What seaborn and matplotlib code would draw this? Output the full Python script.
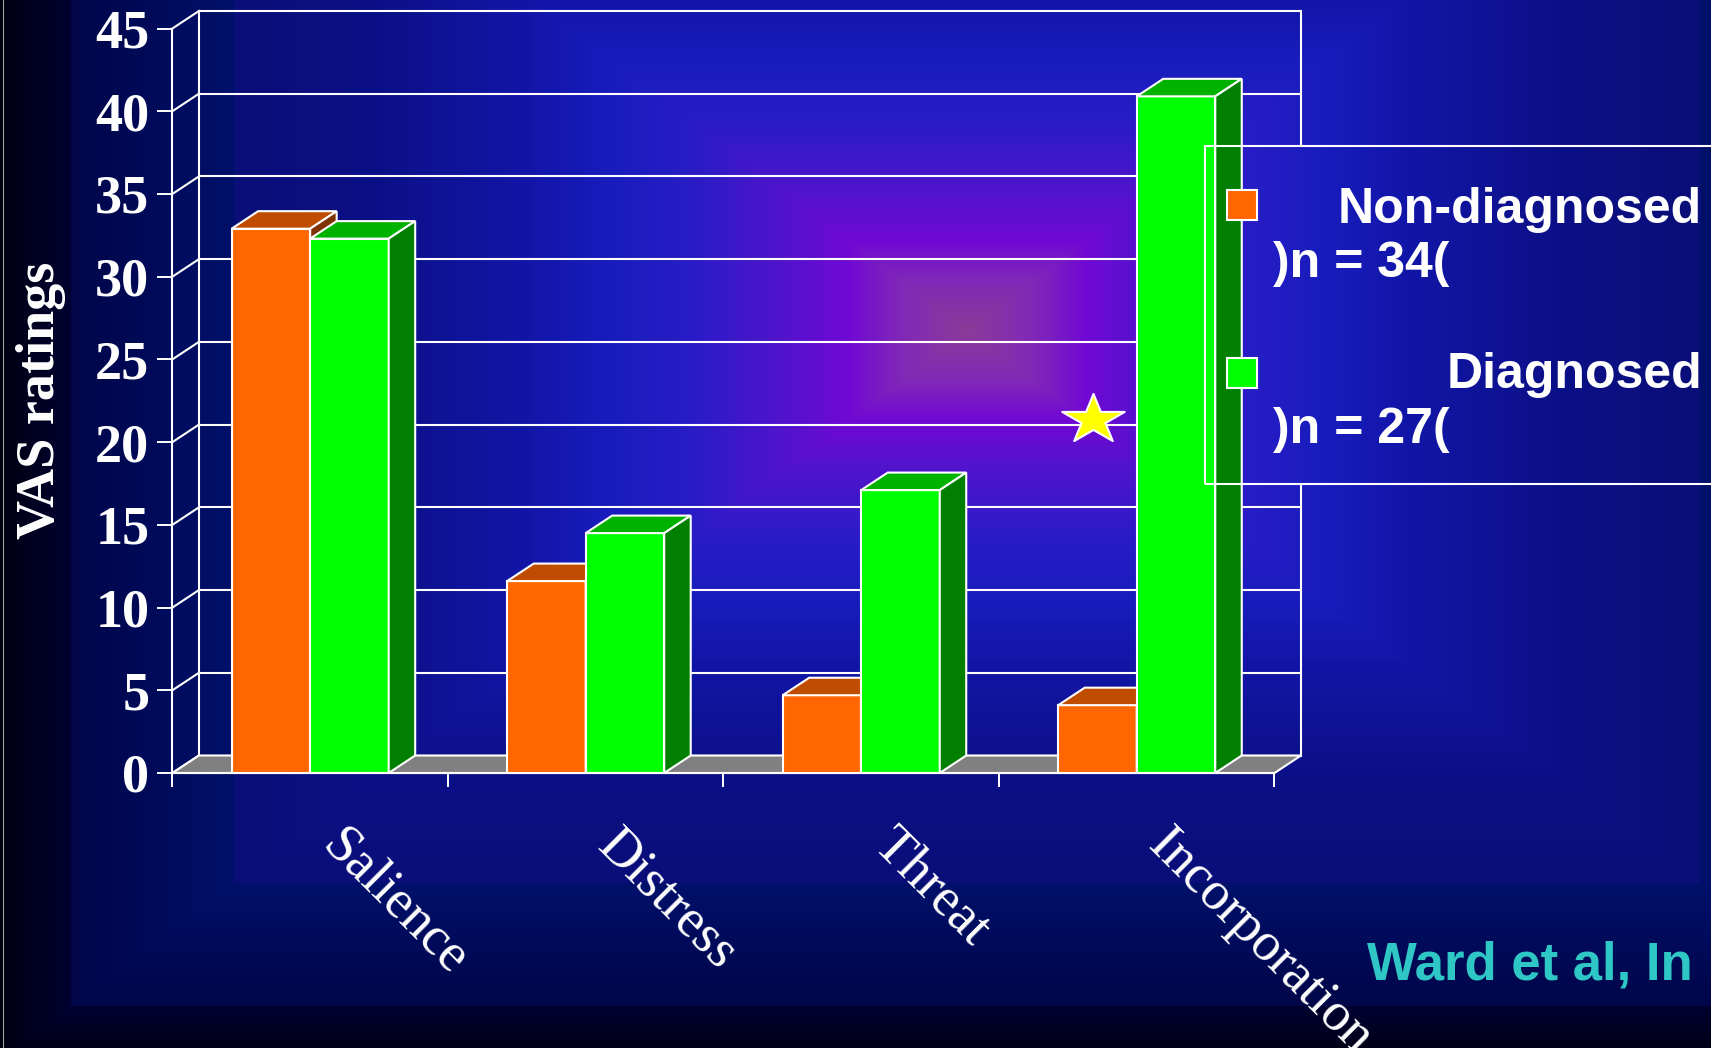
import numpy as np
import pandas as pd
import matplotlib
matplotlib.use("Agg")
import matplotlib.pyplot as plt
import matplotlib.transforms as mtransforms
from matplotlib.patches import Polygon, Rectangle
from matplotlib.path import Path
import seaborn as sns

# ---------------- data ----------------
categories = ["Salience", "Distress", "Threat", "Incorporation"]
groups = ["Non-diagnosed", "Diagnosed"]
group_counts = [")n = 34(", ")n = 27("]
non_diagnosed = [32.9, 11.6, 4.7, 4.1]
diagnosed = [32.3, 14.5, 17.1, 40.9]
y_ticks = [0, 5, 10, 15, 20, 25, 30, 35, 40, 45]
y_label = "VAS ratings"
source_note = "Ward et al, In"
star_position = 2.84   # in category units
star_value = 21.5

# ---------------- style ----------------
ORANGE, ORANGE_TOP, ORANGE_SIDE = "#FF6600", "#BF4C00", "#7F3300"
GREEN, GREEN_TOP, GREEN_SIDE = "#00FF00", "#00B200", "#007F00"
FLOOR = "#808080"
LW = 1.5
SERIF = "Liberation Serif"
SANS = "Liberation Sans"

W, H = 1711, 1048
fig = plt.figure(figsize=(W / 100, H / 100), dpi=100)


def make_background():
    yy, xx = np.mgrid[0:H, 0:W].astype(float)
    cx, cy, asp = 967.0, 330.0, 1.327
    d = np.maximum(np.abs(xx - cx) / asp, np.abs(yy - cy))
    stops = [0, 50, 90, 140, 210, 270, 330, 440, 552, 553, 620, 675, 676, 760]
    cols = np.array([
        (0x8a, 0x3c, 0x98), (0x80, 0x28, 0xb8), (0x70, 0x08, 0xd4),
        (0x50, 0x14, 0xcc), (0x28, 0x1c, 0xc6), (0x18, 0x1c, 0xbc),
        (0x12, 0x16, 0xa8), (0x0c, 0x10, 0x88), (0x0a, 0x0e, 0x78),
        (0x00, 0x10, 0x6a), (0x00, 0x0a, 0x58), (0x00, 0x06, 0x48),
        (0x00, 0x00, 0x30), (0x00, 0x00, 0x00)], dtype=float) / 255.0
    img = np.stack([np.interp(d, stops, cols[:, k]) for k in range(3)], axis=-1)
    return img


bg = make_background()
bg_ax = fig.add_axes([0, 0, 1, 1], zorder=0)
bg_ax.imshow(bg, extent=(0, W, H, 0), aspect="auto", interpolation="bilinear")
bg_ax.plot([3, 3], [0, H], color="#a0a0a0", lw=0.8)
bg_ax.set_xlim(0, W)
bg_ax.set_ylim(H, 0)
bg_ax.axis("off")

# ---------------- main axes (front plane) ----------------
L, R, B0, T45 = 172.4, 1274.5, 773.0, 28.5
ax = fig.add_axes([L / W, 1 - B0 / H, (R - L) / W, (B0 - T45) / H], zorder=1)
ax.patch.set_alpha(0)

df = pd.DataFrame({
    "category": categories * 2,
    "group": [groups[0]] * 4 + [groups[1]] * 4,
    "value": non_diagnosed + diagnosed,
})
sns.barplot(data=df, x="category", y="value", hue="group", order=categories,
            hue_order=groups, palette=[ORANGE, GREEN], width=0.57, saturation=1,
            edgecolor="white", linewidth=LW, legend=False, errorbar=None, ax=ax)

ax.set_xlim(-0.5, 3.5)
ax.set_ylim(0, 45)

px_per_x = (R - L) / 4.0
px_per_y = (B0 - T45) / 45.0
DX = 26.5 / px_per_x
DY = 17.5 / px_per_y


def px2x(px):
    return -0.5 + (px - L) / px_per_x


def py2y(py):
    return (B0 - py) / px_per_y


# back wall grid, side wall diagonals, wall edges
for t in y_ticks:
    ax.plot([-0.5 + DX, 3.5 + DX], [t + DY, t + DY], color="white", lw=LW,
            zorder=1, clip_on=False, solid_capstyle="butt")
    ax.plot([-0.5, -0.5 + DX], [t, t + DY], color="white", lw=LW, zorder=1, clip_on=False)
for xe in (-0.5 + DX, 3.5 + DX):
    ax.plot([xe, xe], [DY, 45 + DY], color="white", lw=LW, zorder=1, clip_on=False)

# floor
ax.add_patch(Polygon([(-0.5, 0), (3.5, 0), (3.5 + DX, DY), (-0.5 + DX, DY)],
                     closed=True, fc=FLOOR, ec="white", lw=LW, zorder=2, clip_on=False))

# legend box background (hides grid lines behind it)
lx0, lx1, ly0, ly1 = px2x(1205), px2x(1730), py2y(484), py2y(146)
clip_rect = Rectangle((lx0, ly0), lx1 - lx0, ly1 - ly0, transform=ax.transData)
im = ax.imshow(bg, extent=(px2x(0), px2x(W), py2y(H), py2y(0)), aspect="auto",
               interpolation="bilinear", zorder=1.8)
im.set_clip_path(clip_rect)

# 3D bar faces
shades = [(ORANGE_TOP, ORANGE_SIDE), (GREEN_TOP, GREEN_SIDE)]
for i, cont in enumerate(ax.containers):
    top_c, side_c = shades[i]
    for p in cont.patches:
        p.set_zorder(3 + 2 * i)
        x0, w, h = p.get_x(), p.get_width(), p.get_height()
        ax.add_patch(Polygon([(x0, h), (x0 + w, h), (x0 + w + DX, h + DY), (x0 + DX, h + DY)],
                             closed=True, fc=top_c, ec="white", lw=LW,
                             zorder=3.5 + 2 * i, clip_on=False))
        ax.add_patch(Polygon([(x0 + w, 0), (x0 + w + DX, DY), (x0 + w + DX, h + DY), (x0 + w, h)],
                             closed=True, fc=side_c, ec="white", lw=LW,
                             zorder=3.5 + 2 * i, clip_on=False))

ax.set_xlim(-0.5, 3.5)
ax.set_ylim(0, 45)

# legend frame and keys
ax.add_patch(Rectangle((lx0, ly0), lx1 - lx0, ly1 - ly0, fill=False, ec="white",
                       lw=LW, zorder=8, clip_on=False))
for (top_px, col) in ((190, ORANGE), (358, GREEN)):
    ax.add_patch(Rectangle((px2x(1227), py2y(top_px + 30)), 30 / px_per_x, 30 / px_per_y,
                           fc=col, ec="white", lw=LW, zorder=8, clip_on=False))

# star marker
t_ang = np.deg2rad(90 + 36 * np.arange(10))
r = np.where(np.arange(10) % 2 == 0, 1.0, 0.382)
sx, sy = r * np.cos(t_ang), r * np.sin(t_ang)
sy = sy - (sy.max() + sy.min()) / 2
sy = sy * 0.754 * (sx.max() - sx.min()) / (sy.max() - sy.min())
star_path = Path(np.column_stack([sx, sy]).tolist() + [[sx[0], sy[0]]],
                 [Path.MOVETO] + [Path.LINETO] * 9 + [Path.CLOSEPOLY])
ax.plot([star_position], [star_value], marker=star_path, ms=45, mfc="#FFFF00",
        mec="white", mew=1.5, ls="none", zorder=9, clip_on=False)

# axes styling
for s in ("top", "right"):
    ax.spines[s].set_visible(False)
for s in ("left", "bottom"):
    ax.spines[s].set_color("white")
    ax.spines[s].set_linewidth(LW)
    ax.spines[s].set_zorder(6)

ax.set_yticks(y_ticks)
ax.set_yticklabels([str(v) for v in y_ticks], fontfamily=SERIF, fontweight="bold",
                   fontsize=39, color="white")
ax.tick_params(axis="y", length=10.8, width=1.4, color="white", pad=5.8, direction="out")

ax.set_xticks(range(len(categories)))
ax.set_xticklabels(categories, rotation=-45, ha="left", va="top", rotation_mode="anchor",
                   fontfamily=SERIF, fontsize=39, color="white")
ax.tick_params(axis="x", which="major", length=0, pad=34)
ax.set_xticks([-0.5, 0.5, 1.5, 2.5, 3.5], minor=True)
ax.tick_params(axis="x", which="minor", length=10, width=1.4, color="white", direction="out")
shift = mtransforms.ScaledTranslation(0.37, 0, fig.dpi_scale_trans)
for lab in ax.get_xticklabels():
    lab.set_transform(lab.get_transform() + shift)

ax.set_xlabel("")
ax.set_ylabel(y_label, fontfamily=SERIF, fontweight="bold", fontsize=39, color="white")
ax.yaxis.label.set_va("center")
ax.yaxis.set_label_coords(-0.1192, 0.501)

# legend texts
fs_leg = 36
fig.text(1702 / W, 1 - 223 / H, groups[0], ha="right", va="baseline", color="white",
         fontsize=fs_leg, fontweight="bold", family=SANS)
fig.text(1273 / W, 1 - 277 / H, group_counts[0], ha="left", va="baseline", color="white",
         fontsize=fs_leg, fontweight="bold", family=SANS)
fig.text(1702 / W, 1 - 388 / H, groups[1], ha="right", va="baseline", color="white",
         fontsize=fs_leg, fontweight="bold", family=SANS)
fig.text(1273 / W, 1 - 443 / H, group_counts[1], ha="left", va="baseline", color="white",
         fontsize=fs_leg, fontweight="bold", family=SANS)

fig.text(1367 / W, 1 - 980 / H, source_note, ha="left", va="baseline", color="#2FC6C6",
         fontsize=38, fontweight="bold", family=SANS)

fig.savefig("out.png", dpi=100)
